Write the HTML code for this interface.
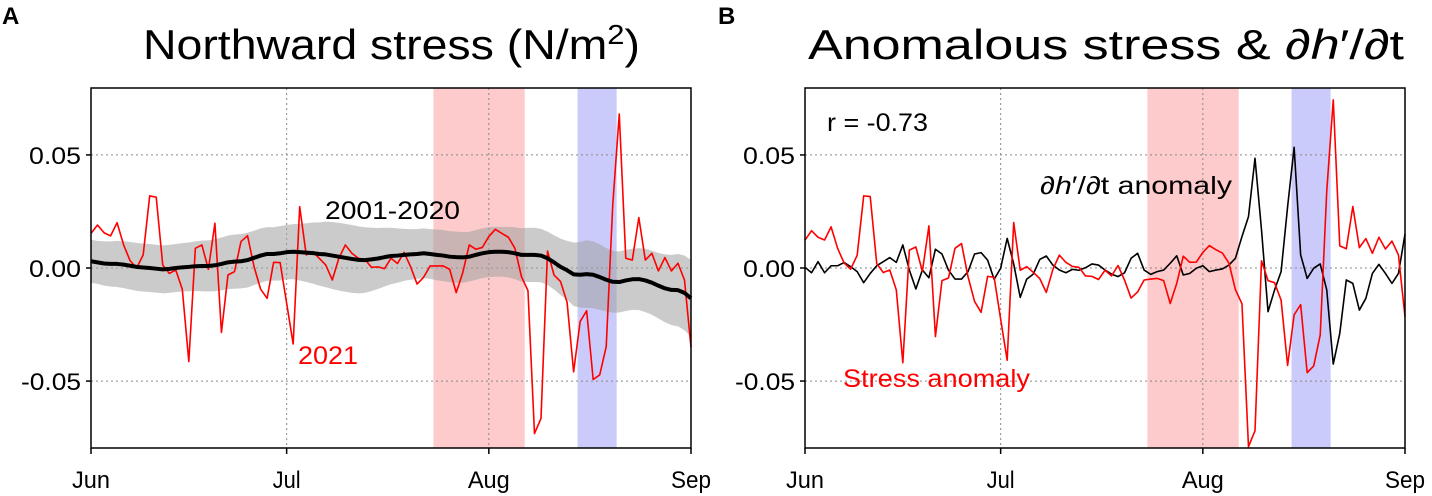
<!DOCTYPE html>
<html><head><meta charset="utf-8">
<style>
html,body{margin:0;padding:0;background:#fff;}
svg{display:block;font-family:"Liberation Sans","DejaVu Sans",sans-serif;}
</style></head>
<body>
<svg id="fig" width="1432" height="496" viewBox="0 0 1432 496" xmlns="http://www.w3.org/2000/svg"></svg>
<script>
// ---- data ----
const monthLabels = ["Jun","Jul","Aug","Sep"];
const monthDays = [0,30,61,92];
const yTicks = [0.05,0.00,-0.05];
const yTickLabels = ["0.05","0.00","-0.05"];
const pinkSpan = [52.5,66.5];
const blueSpan = [74.6,80.6];
const stress2021 = [0.0153,0.019,0.0156,0.0142,0.020,0.0102,0.0032,0,0.0058,0.0319,0.0313,0.0013,-0.0024,-0.0009,-0.0094,-0.0414,0.0087,0.0102,-0.0006,0.0198,-0.0285,-0.0031,-0.0016,0.0117,0.0143,0.0006,-0.0093,-0.0134,0.0025,0.0024,-0.0156,-0.0336,0.0271,0.0058,0.0072,0.0043,0.0013,-0.0053,0.0043,0.0102,0.0065,0.0043,0.0038,0.0003,0.0005,-0.0003,0.0043,0.002,
0.0069,0.0006,-0.0071,-0.0041,0.0009,0.0009,0.0009,-0.0006,-0.0109,-0.0021,0.0102,0.0083,0.0091,0.0139,0.0171,0.0153,0.0136,0.0087,-0.0038,-0.0100,-0.0732,-0.0665,0.0075,-0.0031,-0.0060,-0.0152,-0.0459,-0.0237,-0.0189,-0.0493,-0.0473,-0.0348,0.0279,0.0681,0.0043,0.0035,0.0223,0.0035,0.0065,-0.0013,0.0046,-0.0013,0.0021,-0.0053,-0.035];
const climMean = [0.003,0.0025,0.002,0.0018,0.0018,0.0015,0.001,0.0005,0.0002,0,-0.0003,
-0.0006,-0.0004,0,0.0003,0.0005,0.0008,0.0009,0.0009,0.0012,0.0018,
0.0025,0.0028,0.003,0.0035,0.0045,0.0055,0.0062,0.0062,0.0065,0.007,
0.0072,0.007,0.0068,0.0066,0.0062,0.006,0.0055,0.005,0.0045,0.004,
0.0036,0.0035,0.0038,0.0042,0.0048,0.0053,0.0055,0.0058,0.006,0.0062,
0.0065,0.0062,0.0058,0.0055,0.005,0.0048,0.0047,0.005,0.0058,0.0065,
0.007,0.0072,0.0072,0.007,0.0065,0.0058,0.0058,0.0058,0.0055,0.0043,
0.0025,0.0005,-0.001,-0.0028,-0.003,-0.0027,-0.003,-0.004,-0.0052,-0.0061,
-0.0062,-0.0055,-0.005,-0.0049,-0.0055,-0.0065,-0.0078,-0.009,-0.0097,-0.0098,-0.011,-0.0134];
const climStd = [.0095,.0095,.0098,.01,.0102,.0104,.0105,.0106,.0106,.0106,.0106,
.0106,.0106,.0106,.0107,.0108,.011,.0112,.0113,.0115,.0117,
.0118,.012,.012,.0121,.012,.012,.0119,.0118,.012,.012,
.0122,.0125,.013,.0135,.014,.0145,.0148,.015,.015,.015,
.0148,.0145,.014,.0135,.013,.0125,.012,.0115,.0112,.011,
.011,.011,.0112,.0113,.0113,.0113,.0112,.011,.011,.011,
.011,.011,.011,.0112,.0115,.0118,.012,.012,.0118,.0118,
.012,.0125,.013,.014,.0145,.015,.0148,.0145,.014,.0137,
.0135,.0135,.0135,.0137,.014,.0142,.0145,.015,.0155,.016,.0165,.017];
const dhdtAnom = [0.0003,-0.0021,0.0028,-0.0021,0.0010,0.0010,0.0024,0.0006,-0.0016,-0.0065,-0.0024,0.0010,0.0028,0.0046,0.0025,0.0102,-0.0009,-0.0093,-0.0009,-0.0043,0.0083,0.0062,-0.0009,-0.0049,-0.0049,-0.0016,0.0062,0.0068,0.0035,-0.0050,-0.0001,0.0131,0.0018,-0.0130,-0.0049,-0.0027,0.0038,0.0053,0.0013,-0.0009,-0.0021,-0.0006,-0.0010,0.0001,0.0018,0.0013,-0.0009,-0.0027,-0.0038,-0.0021,0.0043,0.0065,-0.0009,-0.0028,-0.0016,-0.0009,0.0021,0.0054,-0.0031,-0.0024,-0.0001,0.0010,-0.0016,-0.0009,-0.0004,0.0013,0.0043,0.0139,0.0227,0.0485,0.0168,-0.0193,-0.0097,-0.0016,0.0271,0.0534,0.0058,-0.0046,-0.0001,0.0018,-0.0097,-0.0425,-0.0289,-0.0053,-0.0068,-0.0186,-0.0134,-0.0024,0.0016,-0.0024,-0.0068,-0.0024,0.0150];
const stressAnom = stress2021.map((v,i)=>v-climMean[i]);

// ---- drawing ----
const NS="http://www.w3.org/2000/svg";
const svg=document.getElementById('fig');
function mk(tag,attrs,parent){const e=document.createElementNS(NS,tag);for(const k in attrs)e.setAttribute(k,attrs[k]);(parent||svg).appendChild(e);return e;}
const TOP=88,BOT=448,YMIN=-0.0796,YMAX=0.0796;
function yScale(v){return BOT-(v-YMIN)/(YMAX-YMIN)*(BOT-TOP);}
function makeX(left,right){return d=>left+d/92*(right-left);}
function linePath(xs,vals){return vals.map((v,i)=>(i?'L':'M')+xs(i).toFixed(2)+','+yScale(v).toFixed(2)).join('');}
const TL={'0.05':52,'0.00':52,'-0.05':60,'Jun':38,'Jul':28,'Aug':42,'Sep':40};

function panel(left,right,letter,letterX){
  const g=mk('g',{});
  
  
  const xs=makeX(left,right);
  const p=mk('rect',{x:xs(pinkSpan[0]),y:TOP,width:xs(pinkSpan[1])-xs(pinkSpan[0]),height:BOT-TOP,fill:'#fdcbcb'},g);
   
  const b=mk('rect',{x:xs(blueSpan[0]),y:TOP,width:xs(blueSpan[1])-xs(blueSpan[0]),height:BOT-TOP,fill:'#cbcbfb'},g);
   
  monthDays.slice(1,3).forEach(d=>{const l=mk('line',{x1:xs(d),x2:xs(d),y1:TOP,y2:BOT,stroke:'#888','stroke-width':1,'stroke-dasharray':'2,3'},g);
     });
  yTicks.forEach(v=>{const l=mk('line',{x1:left,x2:right,y1:yScale(v),y2:yScale(v),stroke:'#888','stroke-width':1,'stroke-dasharray':'2,3'},g);
     });
  yTicks.forEach((v,i)=>{mk('line',{x1:left-5,x2:left,y1:yScale(v),y2:yScale(v),stroke:'#000','stroke-width':1.5},g);
    const t=mk('text',{x:left-10,y:yScale(v)+9,'text-anchor':'end','font-size':24,fill:'#000',textLength:TL[yTickLabels[i]],lengthAdjust:'spacingAndGlyphs'},g);t.textContent=yTickLabels[i];
     });
  monthDays.forEach((d,i)=>{mk('line',{x1:xs(d),x2:xs(d),y1:BOT,y2:BOT+6,stroke:'#000','stroke-width':1.5},g);
    const t=mk('text',{x:xs(d),y:488,'text-anchor':'middle','font-size':24,fill:'#000',textLength:TL[monthLabels[i]],lengthAdjust:'spacingAndGlyphs'},g);t.textContent=monthLabels[i];
     });
  const lt=mk('text',{x:letterX,y:24,'font-size':24,'font-weight':'bold',fill:'#000'},g);lt.textContent=letter;
   
  return {g,xs};
}

// Panel A
const A=panel(91,691,'A',2);
{
  const xs=A.xs;
  let d='';
  climMean.forEach((m,i)=>{d+=(i?'L':'M')+xs(i).toFixed(2)+','+yScale(m+climStd[i]).toFixed(2);});
  for(let i=climMean.length-1;i>=0;i--){d+='L'+xs(i).toFixed(2)+','+yScale(climMean[i]-climStd[i]).toFixed(2);}
  const band=mk('path',{d:d+'Z',fill:'#a0a0a0','fill-opacity':0.55},A.g);
   
  const r=mk('path',{d:linePath(xs,stress2021),fill:'none',stroke:'#ff0000','stroke-width':1.6,'stroke-linejoin':'round'},A.g);
   
  const m=mk('path',{d:linePath(xs,climMean),fill:'none',stroke:'#000','stroke-width':4,'stroke-linejoin':'round'},A.g);
   
  const box=mk('rect',{x:91,y:TOP,width:600,height:BOT-TOP,fill:'none',stroke:'#000','stroke-width':1.5},A.g);
   
  const t1=mk('text',{x:325,y:219,'font-size':25,fill:'#000',textLength:135,lengthAdjust:'spacingAndGlyphs'},A.g);t1.textContent='2001-2020';
   
  const t2=mk('text',{x:298,y:364,'font-size':25,fill:'#ff0000',textLength:60,lengthAdjust:'spacingAndGlyphs'},A.g);t2.textContent='2021';
   
  const tt=mk('text',{x:143,y:59,'font-size':42,fill:'#000',textLength:497,lengthAdjust:'spacingAndGlyphs'},A.g);
  tt.innerHTML='Northward stress (N/m<tspan font-size="28" dy="-15">2</tspan><tspan dy="15">)</tspan>';
   
}
// Panel B
const B=panel(805,1405,'B',718);
{
  const xs=B.xs;
  const k=mk('path',{d:linePath(xs,dhdtAnom),fill:'none',stroke:'#000','stroke-width':1.6,'stroke-linejoin':'round'},B.g);
   
  const r=mk('path',{d:linePath(xs,stressAnom),fill:'none',stroke:'#ff0000','stroke-width':1.6,'stroke-linejoin':'round'},B.g);
   
  const box=mk('rect',{x:805,y:TOP,width:600,height:BOT-TOP,fill:'none',stroke:'#000','stroke-width':1.5},B.g);
   
  const r1=mk('text',{x:827,y:131,'font-size':25,fill:'#000',textLength:101,lengthAdjust:'spacingAndGlyphs'},B.g);r1.textContent='r = -0.73';
   
  const t1=mk('text',{x:1040,y:194,'font-size':25,fill:'#000',textLength:192,lengthAdjust:'spacingAndGlyphs'},B.g);
  t1.innerHTML='∂<tspan font-style="italic">h</tspan>′/∂t anomaly';
   
  const t2=mk('text',{x:843,y:387,'font-size':25,fill:'#ff0000',textLength:187,lengthAdjust:'spacingAndGlyphs'},B.g);t2.textContent='Stress anomaly';
   
  const tt=mk('text',{x:808,y:59,'font-size':42,fill:'#000',textLength:596,lengthAdjust:'spacingAndGlyphs'},B.g);
  tt.innerHTML='Anomalous stress &amp; ∂<tspan font-style="italic">h</tspan>′/∂t';
   
}
</script>
</body></html>
